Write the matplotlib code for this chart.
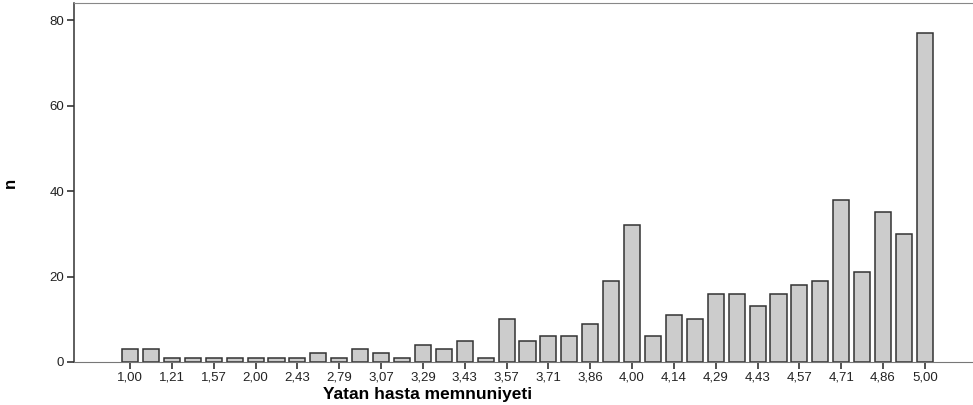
import numpy as np
import matplotlib.pyplot as plt

plt.rcParams['font.family'] = ['Liberation Sans', 'DejaVu Sans']

# category values (mean satisfaction score) and counts
scores = [1.00, 1.07, 1.21, 1.43, 1.57, 1.79, 2.00, 2.21, 2.43, 2.64,
          2.79, 2.93, 3.07, 3.21, 3.29, 3.36, 3.43, 3.50, 3.57, 3.64,
          3.71, 3.79, 3.86, 3.93, 4.00, 4.07, 4.14, 4.21, 4.29, 4.36,
          4.43, 4.50, 4.57, 4.64, 4.71, 4.79, 4.86, 4.93, 5.00]
counts = [3, 3, 1, 1, 1, 1, 1, 1, 1, 2,
          1, 3, 2, 1, 4, 3, 5, 1, 10, 5,
          6, 6, 9, 19, 32, 6, 11, 10, 16, 16,
          13, 16, 18, 19, 38, 21, 35, 30, 77]
yticks = [0, 20, 40, 60, 80]

labels = [f'{s:.2f}'.replace('.', ',') for s in scores]
x = np.arange(len(scores))

fig = plt.figure(figsize=(9.73, 4.05), dpi=100)
ax = fig.add_axes([74 / 973, 43 / 405, 1 - 74 / 973, 359 / 405])

ax.bar(x, counts, width=0.77, color='#cccccc', edgecolor='#333333', linewidth=1.1)

ax.set_xlim(-2.68, 40.3)
ax.set_ylim(0, 84)

ax.set_xticks(x[::2])
ax.set_xticklabels(labels[::2], fontsize=9.5, color='#222222')
ax.set_yticks(yticks)
ax.set_yticklabels([str(v) for v in yticks], fontsize=9.5, color='#222222')
ax.tick_params(axis='both', direction='out', length=5, width=1.2, color='#333333', pad=2)

ax.spines['right'].set_visible(False)
ax.spines['top'].set_color('#888888')
ax.spines['bottom'].set_color('#777777')
ax.spines['left'].set_color('#333333')
ax.spines['left'].set_linewidth(1.1)

ax.set_xlabel('Yatan hasta memnuniyeti', fontsize=12.5, fontweight='bold')
ax.xaxis.set_label_coords((428 - 74) / (973 - 74), -0.07)
ax.set_ylabel('n', fontsize=12, fontweight='bold')
ax.yaxis.set_label_coords(-0.062, 0.5)

fig.savefig('out.png', dpi=100)
